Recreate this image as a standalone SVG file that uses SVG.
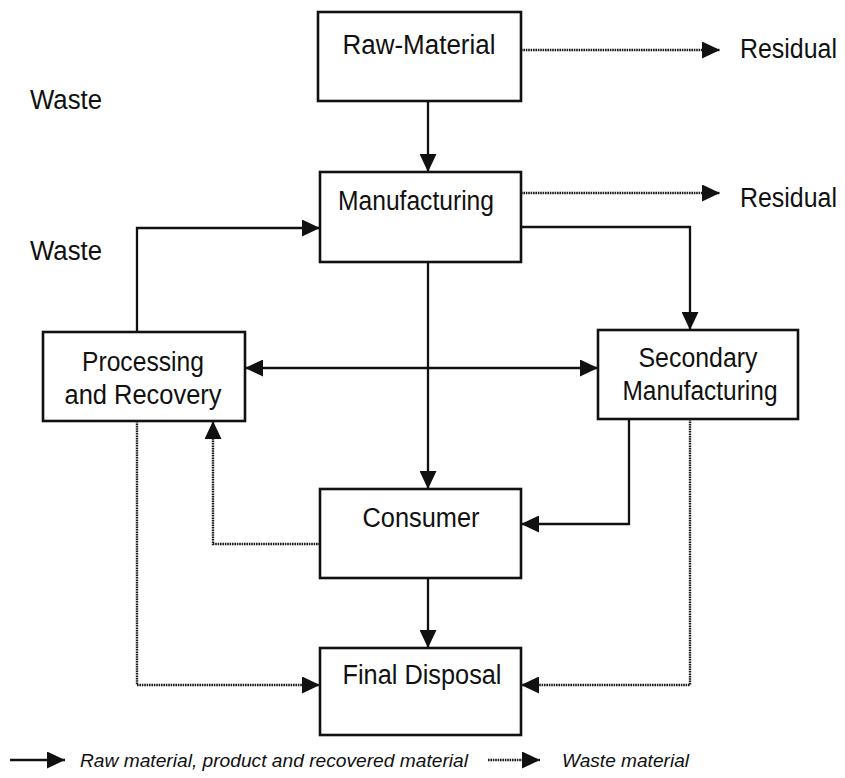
<svg xmlns="http://www.w3.org/2000/svg" width="845" height="778" viewBox="0 0 845 778">
<style>
.box{fill:#fff;stroke:#111;stroke-width:2.6}
.lbl{font-family:"Liberation Sans",Arial,sans-serif;font-size:27px;fill:#111;text-anchor:middle}
.side{font-family:"Liberation Sans",Arial,sans-serif;font-size:27px;fill:#111}
.leg{font-family:"Liberation Sans",Arial,sans-serif;font-size:19px;font-style:italic;fill:#111}
.solid{fill:none;stroke:#111;stroke-width:2.3}
.dot{fill:none;stroke:#1a1a1a;stroke-width:2.4;stroke-dasharray:1.6 0.8}
</style>
<defs>
<marker id="ah" markerUnits="userSpaceOnUse" markerWidth="19" markerHeight="17" refX="18" refY="8.5" orient="auto-start-reverse">
<path d="M0,0 L18,8.5 L0,17 z" fill="#111"/>
</marker>
</defs>
<rect width="845" height="778" fill="#fff"/>
<g id="connectors">
<path class="solid" d="M428,101 V172" marker-end="url(#ah)"/>
<path class="dot" d="M521,50 H720" marker-end="url(#ah)"/>
<path class="dot" d="M521,193 H720" marker-end="url(#ah)"/>
<path class="solid" d="M521,227 H690 V330" marker-end="url(#ah)"/>
<path class="solid" d="M137,332 V228 H320" marker-end="url(#ah)"/>
<path class="solid" d="M245,368 H598" marker-start="url(#ah)" marker-end="url(#ah)"/>
<path class="solid" d="M428,262 V489" marker-end="url(#ah)"/>
<path class="solid" d="M629,419 V524 H521" marker-end="url(#ah)"/>
<path class="dot" d="M320,544 H213 V421" marker-end="url(#ah)"/>
<path class="dot" d="M137,421 V685 H320" marker-end="url(#ah)"/>
<path class="dot" d="M690,419 V685 H521" marker-end="url(#ah)"/>
<path class="solid" d="M428,578 V648" marker-end="url(#ah)"/>
</g>
<g id="raw-material">
<rect class="box" x="318" y="12" width="203" height="89"/>
<text class="lbl" x="419" y="54" textLength="153" lengthAdjust="spacingAndGlyphs">Raw-Material</text>
</g>
<g id="residual-1"><text class="side" x="740" y="58" textLength="97" lengthAdjust="spacingAndGlyphs">Residual</text></g>
<g id="waste-1"><text class="side" x="30" y="109" textLength="72" lengthAdjust="spacingAndGlyphs">Waste</text></g>
<g id="manufacturing">
<rect class="box" x="320" y="172" width="201" height="90"/>
<text class="lbl" x="416" y="210" textLength="156" lengthAdjust="spacingAndGlyphs">Manufacturing</text>
</g>
<g id="residual-2"><text class="side" x="740" y="207" textLength="97" lengthAdjust="spacingAndGlyphs">Residual</text></g>
<g id="waste-2"><text class="side" x="30" y="260" textLength="72" lengthAdjust="spacingAndGlyphs">Waste</text></g>
<g id="processing-recovery">
<rect class="box" x="43" y="332" width="202" height="89"/>
<text class="lbl" x="143" y="371" textLength="122" lengthAdjust="spacingAndGlyphs">Processing</text>
<text class="lbl" x="143" y="404" textLength="157" lengthAdjust="spacingAndGlyphs">and Recovery</text>
</g>
<g id="secondary-manufacturing">
<rect class="box" x="598" y="330" width="200" height="89"/>
<text class="lbl" x="698" y="367" textLength="119" lengthAdjust="spacingAndGlyphs">Secondary</text>
<text class="lbl" x="700" y="400" textLength="155" lengthAdjust="spacingAndGlyphs">Manufacturing</text>
</g>
<g id="consumer">
<rect class="box" x="320" y="489" width="201" height="89"/>
<text class="lbl" x="421" y="527" textLength="117" lengthAdjust="spacingAndGlyphs">Consumer</text>
</g>
<g id="final-disposal">
<rect class="box" x="320" y="648" width="201" height="87"/>
<text class="lbl" x="422" y="684" textLength="159" lengthAdjust="spacingAndGlyphs">Final Disposal</text>
</g>
<g id="legend">
<path class="solid" d="M10,760 H65" marker-end="url(#ah)"/>
<text class="leg" x="80" y="767" textLength="388" lengthAdjust="spacingAndGlyphs">Raw material, product and recovered material</text>
<path class="dot" d="M488,760 H540" marker-end="url(#ah)"/>
<text class="leg" x="562" y="767" textLength="127" lengthAdjust="spacingAndGlyphs">Waste material</text>
</g>
</svg>
